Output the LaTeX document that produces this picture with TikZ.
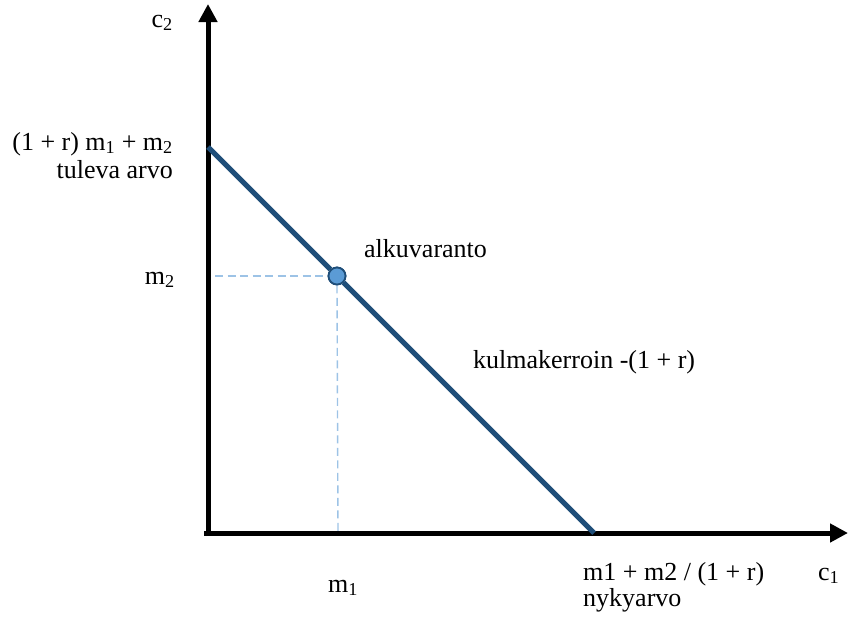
\documentclass[tikz,border=0pt]{standalone}
\usepackage{fontspec}
\setmainfont{Liberation Serif}
\usepackage{tikz}
\usetikzlibrary{positioning,arrows.meta,calc}
\definecolor{navy}{HTML}{1F4E79}
\definecolor{dot}{HTML}{5B9BD5}
\definecolor{guide}{HTML}{9DC3E6}

\begin{document}
\begin{tikzpicture}[x=1pt,y=-1pt,
    axis/.style={line width=5pt,-{Triangle[length=18pt,width=18pt]}},
    budget/.style={draw=navy,line width=5pt},
    helper/.style={draw=guide,line width=1.4pt,dash pattern=on 8pt off 4.5pt},
    lbl/.style={inner sep=0pt,font=\fontsize{26}{30}\selectfont},
    pt/.style={circle,draw=navy,fill=dot,line width=1.8pt,minimum size=17pt,inner sep=0pt}]
    \useasboundingbox (0,0) rectangle (849,630);
    \coordinate (o) at (208,533);
    \coordinate (ytop) at (208,4);
    \coordinate (xend) at (848,533);
    \coordinate (yi) at (208,147);
    \coordinate (xi) at (594,533);
    \coordinate (m2) at (215,276);
    \coordinate (m1) at (338,533);
    \node[pt] (e) at (337,276) {};
    % dashed guides
    \draw[helper] (m2) -- (e.west);
    \draw[helper] (e.south) -- (m1);
    % axes
    \draw[axis] ($(o)+(0,3)$) -- (ytop);
    \draw[axis] ($(o)+(-4,0)$) -- (xend);
    % budget line
    \draw[budget] (yi) -- (e) -- (xi);
    \node[pt] at (e) {};
    % labels
    \node[lbl,anchor=base east] (lc2) at (173,27) {c\textsubscript{2}};
    \node[lbl,anchor=base east] (lfut) at (173,150)
      {(1 + r) m\textsubscript{1} + m\textsubscript{2}};
    \node[lbl,anchor=base east] (lfut2) at ($(lfut.base east)+(0,28)$) {tuleva arvo};
    \node[lbl,anchor=base east] (lm2) at (175,284) {m\textsubscript{2}};
    \node[lbl,anchor=base west] (lend) at (364,257) {alkuvaranto};
    \node[lbl,anchor=base west] (lslope) at (473,368) {kulmakerroin -(1 + r)};
    \node[lbl,anchor=base west] (lm1) at (328,592) {m\textsubscript{1}};
    \node[lbl,anchor=base west] (lpv) at (583,580) {m1 + m2 / (1 + r)};
    \node[lbl,anchor=base west] (lpv2) at ($(lpv.base west)+(0,26)$) {nykyarvo};
    \node[lbl,anchor=base west] (lc1) at (818,580) {c\textsubscript{1}};
\end{tikzpicture}
\end{document}
